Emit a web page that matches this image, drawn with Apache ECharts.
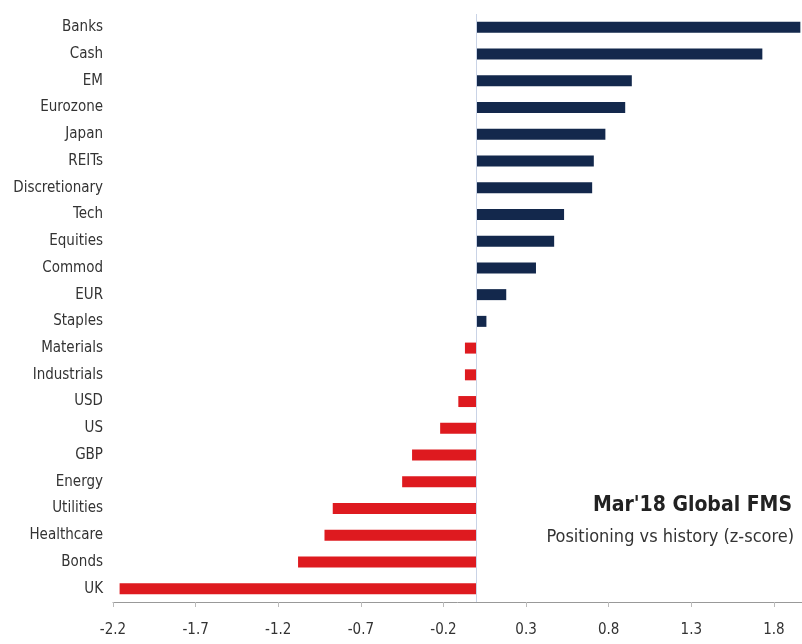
<!DOCTYPE html>
<html><head><meta charset="utf-8">
<script src="https://cdn.jsdelivr.net/npm/echarts@6/dist/echarts.min.js"></script>
<style>html,body{margin:0;padding:0;background:#fff}#c{width:802px;height:644px}</style>
</head><body><div id="c"></div>
<script>
const categories = ["Banks","Cash","EM","Eurozone","Japan","REITs","Discretionary","Tech","Equities","Commod","EUR","Staples","Materials","Industrials","USD","US","GBP","Energy","Utilities","Healthcare","Bonds","UK"];
const zScores = [1.96,1.73,0.94,0.90,0.78,0.71,0.70,0.53,0.47,0.36,0.18,0.06,-0.07,-0.07,-0.11,-0.22,-0.39,-0.45,-0.87,-0.92,-1.08,-2.16];
const titleText = "Mar'18 Global FMS";
const subtitleText = "Positioning vs history (z-score)";
const FONT = "'Liberation Sans Narrow','DejaVu Sans Condensed','Liberation Sans',sans-serif";
const chart = echarts.init(document.getElementById('c'));
chart.setOption({
  animation:false,
  backgroundColor:'#fff',
  title:[
    {text:titleText,right:5,top:490,textStyle:{fontFamily:FONT,fontSize:21,fontWeight:'bold',color:'#222'}},
    {text:subtitleText,right:3,top:523,textStyle:{fontFamily:FONT,fontSize:18,fontWeight:'normal',color:'#333'}}
  ],
  grid:{left:113,right:0,top:14,bottom:42},
  xAxis:{type:'value',min:-2.2,max:1.97,interval:0.5,
    axisLine:{show:true,lineStyle:{color:'#999'}},
    axisTick:{show:true,length:5,lineStyle:{color:'#bbb'}},
    splitLine:{show:false},
    axisLabel:{showMaxLabel:false,margin:21,fontFamily:FONT,fontSize:15,color:'#333',formatter:v=>v.toFixed(1)}},
  yAxis:{type:'category',data:categories,inverse:true,
    axisLine:{show:false},axisTick:{show:false},
    axisLabel:{margin:10,fontFamily:FONT,fontSize:15,color:'#333'}},
  series:[{type:'bar',data:zScores,barWidth:11,
    itemStyle:{color:p=>p.value>=0?'#13284c':'#de1a1f'},
    markLine:{silent:true,symbol:'none',label:{show:false},
      lineStyle:{color:'#c9d3e6',width:1,type:'solid'},data:[{xAxis:0}]}
  }]
});
</script></body></html>
